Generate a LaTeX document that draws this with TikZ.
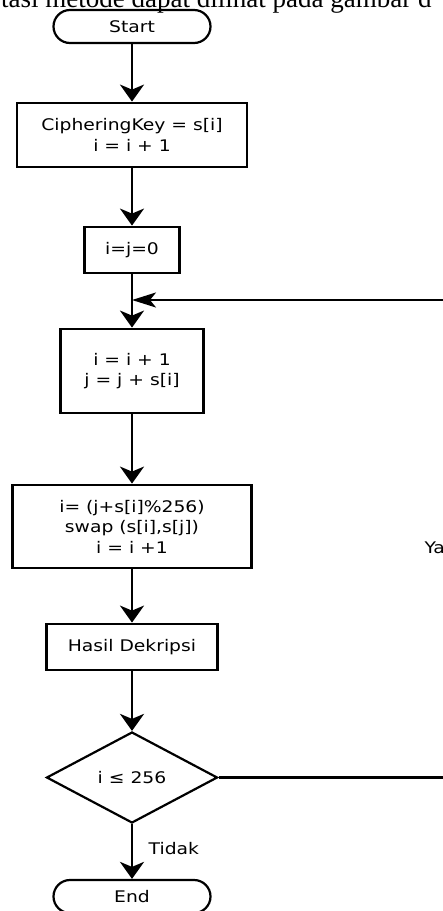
\documentclass[tikz,border=0pt]{standalone}
\usepackage{fontspec}
\usepackage{tikz}
\usetikzlibrary{arrows.meta,shapes.geometric}
\newfontfamily\flowfont[FakeStretch=1.17]{DejaVu Sans}
\newfontfamily\pagefont{Liberation Serif}

\begin{document}
\begin{tikzpicture}[x=1pt, y=-1pt,
  txt/.style  = {font=\flowfont\fontsize{16}{20.5}\selectfont},
  box/.style  = {draw, line width=2.8pt, inner sep=0pt, align=center, txt},
  term/.style = {draw, line width=2.2pt, rounded corners=16.5pt, inner sep=0pt,
                 minimum width=157, minimum height=33, txt},
  dec/.style  = {draw, diamond, line width=2.2pt, inner sep=0pt,
                 minimum width=171, minimum height=91, txt},
  arr/.style  = {-{Stealth[length=17pt, width=24pt, inset=5pt]}, line width=2.8pt},
  back/.style = {-{Stealth[length=24pt, width=15pt, inset=6pt]}, line width=2.2pt}
]
  \useasboundingbox (0,0) rectangle (443,911);
  \clip (0,0) rectangle (443,911);

  % text line of the page above
  \node[anchor=base west, inner sep=0pt, font=\pagefont\fontsize{27}{30}\selectfont]
      (pagetext) at (1,7.5) {tasi metode dapat dilihat pada gambar d};

  % Start / End
  \node[term] (start) at (132,26.5) {Start};
  \node[term] (stop)  at (132,896.5) {End};

  % Process boxes
  \node[box, minimum width=230, minimum height=64] (key)   at (132,135)
      {CipheringKey = s[i]\\i = i + 1};
  \node[box, minimum width=95,  minimum height=46] (init)  at (132,250) {i=j=0};
  \node[box, minimum width=143, minimum height=84] (incr)  at (132,371)
      {i = i + 1\\j = j + s[i]};
  \node[box, minimum width=239, minimum height=83] (swap)  at (132,526.5)
      {i= (j+s[i]\%256)\\swap (s[i],s[j])\\i = i +1};
  \node[box, minimum width=171, minimum height=46] (hasil) at (132,647) {Hasil Dekripsi};

  % Decision
  \node[dec] (cond) at (132,777.5) {i ≤ 256};

  % loop points
  \coordinate (join)  at (132,300);
  \coordinate (loopR) at (470,0);

  % Arrows down
  \draw[arr] (start.south) -- (key.north);
  \draw[arr] (key.south)   -- (init.north);
  \draw[arr] (init.south)  -- (incr.north);
  \draw[arr] (incr.south)  -- (swap.north);
  \draw[arr] (swap.south)  -- (hasil.north);
  \draw[arr] (hasil.south) -- (cond.north);
  \draw[arr] (cond.south)  -- (stop.north)
      node[pos=0.45, anchor=west, txt, xshift=12pt] (tidak) {Tidak};

  % Loop back
  \draw[back] (cond.east) -- (cond.east -| loopR) -- (join -| loopR) -- (join);
  \node[txt, anchor=west] (ya) at (421,548) {Ya};

\end{tikzpicture}
\end{document}
